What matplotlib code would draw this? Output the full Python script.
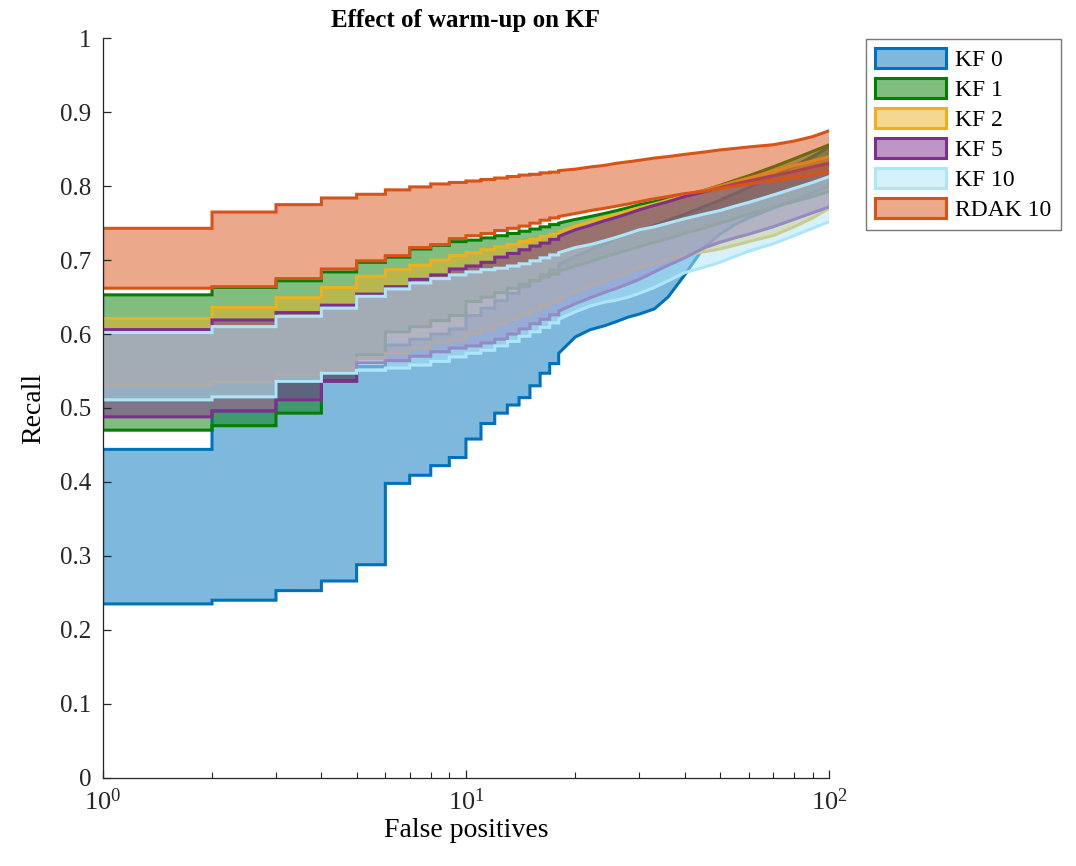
import numpy as np
import matplotlib.pyplot as plt
from matplotlib.colors import to_rgba
from matplotlib.patches import Patch
from matplotlib.ticker import FuncFormatter, LogLocator

plt.rcParams['font.family'] = ['Liberation Serif', 'DejaVu Serif']
plt.rcParams['mathtext.fontset'] = 'custom'
plt.rcParams['mathtext.rm'] = 'Liberation Serif'

# false positive counts where the recall bounds were sampled
fp = [1, 2, 3, 4, 5, 6, 7, 8, 9, 10, 11, 12, 13, 14, 15, 16, 17, 18, 20, 22,
      24, 26, 28, 30, 33, 36, 40, 45, 50, 55, 60, 70, 80, 90, 100]

kf0_lo = [0.235, 0.240, 0.253, 0.266, 0.288, 0.398, 0.409, 0.422, 0.433, 0.458,
          0.479, 0.493, 0.504, 0.514, 0.530, 0.547, 0.560, 0.574, 0.596, 0.606,
          0.611, 0.617, 0.623, 0.627, 0.634, 0.650, 0.680, 0.716, 0.735, 0.748,
          0.757, 0.770, 0.781, 0.791, 0.800]
kf0_hi = [0.444, 0.496, 0.536, 0.547, 0.556, 0.585, 0.593, 0.600, 0.607, 0.625,
          0.635, 0.645, 0.655, 0.664, 0.672, 0.680, 0.687, 0.694, 0.705, 0.714,
          0.722, 0.729, 0.735, 0.740, 0.747, 0.754, 0.762, 0.772, 0.781, 0.790,
          0.798, 0.813, 0.827, 0.840, 0.853]

kf1_lo = [0.470, 0.476, 0.493, 0.537, 0.572, 0.603, 0.610, 0.618, 0.625, 0.644,
          0.650, 0.656, 0.662, 0.667, 0.672, 0.677, 0.681, 0.685, 0.692, 0.698,
          0.704, 0.709, 0.714, 0.718, 0.724, 0.729, 0.736, 0.743, 0.750, 0.756,
          0.762, 0.771, 0.779, 0.786, 0.793]
kf1_hi = [0.653, 0.663, 0.672, 0.684, 0.697, 0.704, 0.715, 0.720, 0.725, 0.727,
          0.730, 0.733, 0.736, 0.739, 0.742, 0.745, 0.748, 0.750, 0.755, 0.759,
          0.763, 0.767, 0.771, 0.775, 0.779, 0.783, 0.788, 0.794, 0.801, 0.808,
          0.814, 0.826, 0.837, 0.847, 0.856]

kf2_lo = [0.531, 0.536, 0.545, 0.554, 0.567, 0.574, 0.581, 0.588, 0.592, 0.600,
          0.607, 0.614, 0.620, 0.626, 0.632, 0.638, 0.643, 0.648, 0.657, 0.665,
          0.672, 0.678, 0.684, 0.689, 0.695, 0.701, 0.706, 0.711, 0.715, 0.720,
          0.725, 0.733, 0.745, 0.757, 0.770]
kf2_hi = [0.621, 0.636, 0.649, 0.663, 0.678, 0.687, 0.693, 0.700, 0.706, 0.710,
          0.714, 0.718, 0.721, 0.725, 0.728, 0.732, 0.735, 0.738, 0.746, 0.752,
          0.758, 0.762, 0.767, 0.771, 0.776, 0.781, 0.787, 0.794, 0.800, 0.806,
          0.811, 0.820, 0.828, 0.834, 0.840]

kf5_lo = [0.488, 0.496, 0.511, 0.536, 0.561, 0.564, 0.570, 0.576, 0.581, 0.584,
          0.588, 0.593, 0.600, 0.607, 0.614, 0.620, 0.626, 0.631, 0.641, 0.649,
          0.656, 0.662, 0.668, 0.674, 0.684, 0.693, 0.703, 0.716, 0.724, 0.730,
          0.735, 0.745, 0.755, 0.764, 0.772]
kf5_hi = [0.606, 0.619, 0.629, 0.639, 0.654, 0.664, 0.674, 0.680, 0.688, 0.692,
          0.697, 0.704, 0.709, 0.714, 0.719, 0.723, 0.728, 0.732, 0.741, 0.747,
          0.753, 0.758, 0.763, 0.768, 0.774, 0.779, 0.786, 0.792, 0.798, 0.803,
          0.807, 0.814, 0.820, 0.826, 0.831]

kf10_lo = [0.511, 0.515, 0.536, 0.547, 0.551, 0.554, 0.558, 0.563, 0.569, 0.574,
           0.578, 0.584, 0.590, 0.597, 0.603, 0.609, 0.615, 0.620, 0.630, 0.638,
           0.643, 0.646, 0.650, 0.655, 0.663, 0.672, 0.683, 0.690, 0.697, 0.705,
           0.712, 0.722, 0.733, 0.743, 0.752]
kf10_hi = [0.602, 0.610, 0.624, 0.635, 0.651, 0.661, 0.669, 0.675, 0.680, 0.684,
           0.687, 0.689, 0.692, 0.695, 0.699, 0.703, 0.707, 0.710, 0.717, 0.721,
           0.726, 0.731, 0.736, 0.741, 0.745, 0.750, 0.756, 0.762, 0.767, 0.773,
           0.778, 0.788, 0.797, 0.805, 0.813]

rdak_lo = [0.662, 0.664, 0.675, 0.688, 0.699, 0.706, 0.717, 0.721, 0.729, 0.733,
           0.736, 0.740, 0.743, 0.746, 0.750, 0.754, 0.757, 0.759, 0.763, 0.767,
           0.770, 0.773, 0.776, 0.779, 0.783, 0.786, 0.790, 0.793, 0.797, 0.800,
           0.803, 0.807, 0.811, 0.815, 0.819]
rdak_hi = [0.743, 0.765, 0.775, 0.784, 0.789, 0.795, 0.799, 0.803, 0.805, 0.807,
           0.809, 0.811, 0.813, 0.815, 0.816, 0.818, 0.819, 0.821, 0.823, 0.826,
           0.828, 0.831, 0.833, 0.835, 0.838, 0.840, 0.843, 0.846, 0.849, 0.851,
           0.853, 0.856, 0.861, 0.867, 0.875]

labels = ['KF 0', 'KF 1', 'KF 2', 'KF 5', 'KF 10', 'RDAK 10']
colors = ['#0072BD', '#007F00', '#EDB120', '#7E2F8E', '#ADE6FA', '#D95319']
bands = [(kf0_lo, kf0_hi), (kf1_lo, kf1_hi), (kf2_lo, kf2_hi),
         (kf5_lo, kf5_hi), (kf10_lo, kf10_hi), (rdak_lo, rdak_hi)]


def stairs(x, y):
    """Step through unit-spaced samples, join the sparser tail directly."""
    xs, ys = [x[0]], [y[0]]
    for i in range(1, len(x)):
        if x[i] - x[i - 1] == 1:
            xs.append(x[i])
            ys.append(y[i - 1])
        xs.append(x[i])
        ys.append(y[i])
    return np.array(xs), np.array(ys)


fig = plt.figure(figsize=(10.76, 8.66), dpi=100)
ax = fig.add_axes([0.0954, 0.102, 0.6753, 0.8538])

handles = []
for k, ((lo, hi), c, lab) in enumerate(zip(bands, colors, labels)):
    xs, ylo = stairs(fp, lo)
    _, yhi = stairs(fp, hi)
    z = 1 + 0.1 * k
    ax.fill_between(xs, ylo, yhi, facecolor=to_rgba(c, 0.5), linewidth=0,
                    zorder=z)
    # outline: lower curve back to the start, up the left side, upper curve out
    ax.plot(np.concatenate([xs[::-1], xs]), np.concatenate([ylo[::-1], yhi]),
            color=c, linewidth=2.2, solid_joinstyle='miter', zorder=z)
    handles.append(Patch(facecolor=to_rgba(c, 0.5), edgecolor=c,
                         linewidth=2.2, label=lab))

ax.set_xscale('log')
ax.set_xlim(1, 100)
ax.set_ylim(0, 1)
ax.set_yticks(np.arange(0, 1.01, 0.1))
ax.yaxis.set_major_formatter(FuncFormatter(lambda v, p: '%g' % round(v, 2)))
ax.xaxis.set_minor_locator(LogLocator(base=10, subs=np.arange(2, 10)))

for s in ['top', 'right']:
    ax.spines[s].set_visible(False)
for s in ['left', 'bottom']:
    ax.spines[s].set_color('#262626')
    ax.spines[s].set_linewidth(0.9)
    ax.spines[s].set_zorder(3)
ax.tick_params(which='both', direction='in', colors='#262626', labelsize=18)
ax.tick_params(axis='x', which='major', labelsize=19)
ax.tick_params(which='major', length=6, width=0.9, pad=8)
ax.tick_params(which='minor', length=4, width=0.8)

ax.set_title('Effect of warm-up on KF', fontsize=18, fontweight='bold', pad=8)
ax.set_xlabel('False positives', fontsize=20, labelpad=2)
ax.set_ylabel('Recall', fontsize=20, labelpad=10)

leg = ax.legend(handles=handles, loc='upper left',
                bbox_to_anchor=(0.805, 0.955), bbox_transform=fig.transFigure,
                fontsize=17, frameon=True, fancybox=False, edgecolor='#555555',
                handlelength=3.0, handleheight=0.9, labelspacing=0.3,
                borderpad=0.38, handletextpad=0.4, borderaxespad=0)
leg.get_frame().set_linewidth(1.0)

fig.savefig('out.png', dpi=100)
